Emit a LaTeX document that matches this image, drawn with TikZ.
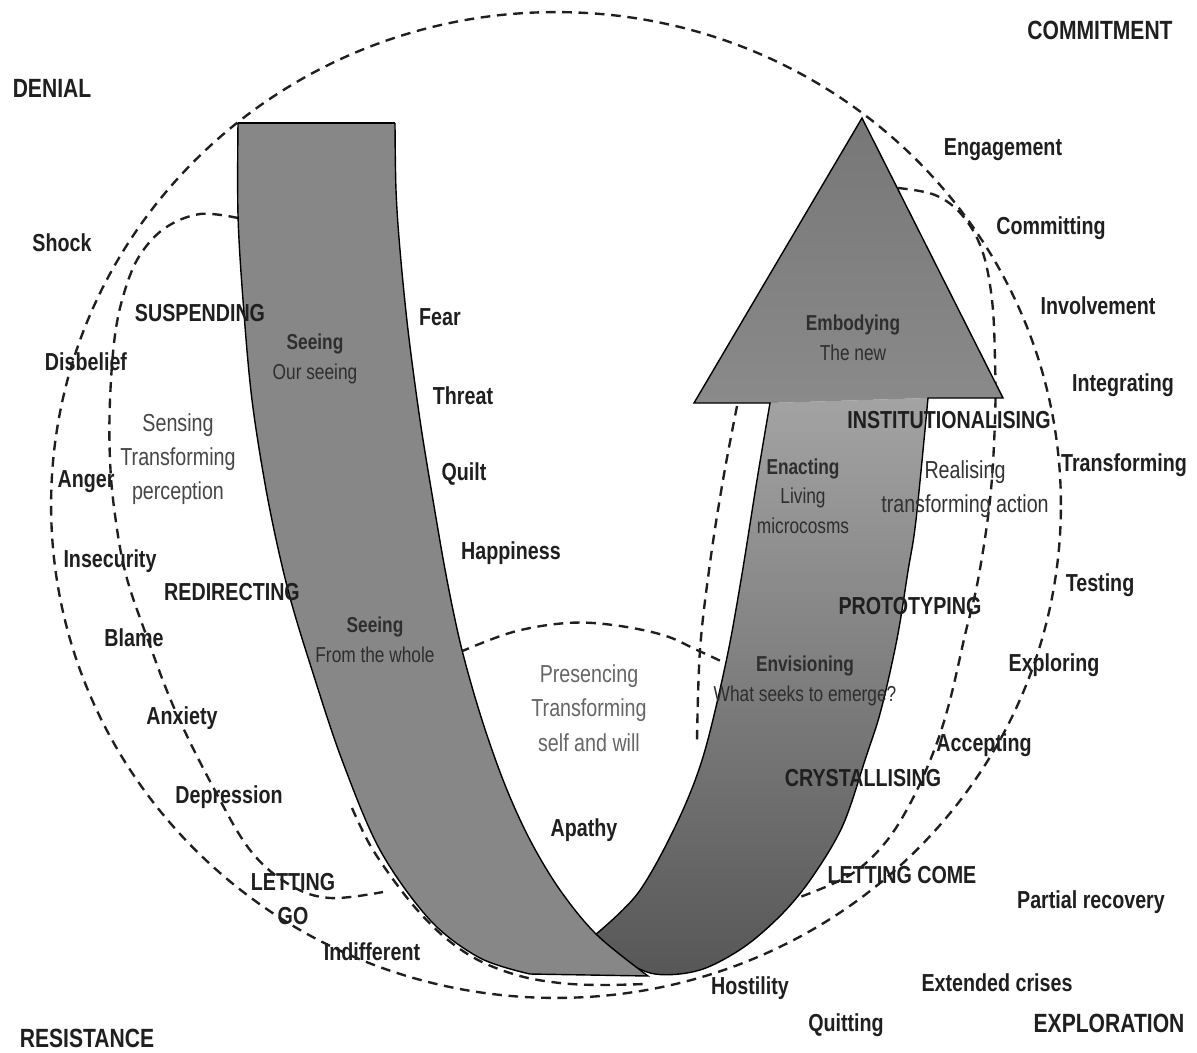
\documentclass[tikz,border=0pt]{standalone}
\usepackage{fontspec}
\setmainfont{Liberation Sans}[FakeStretch=0.8]
\definecolor{bandL}{HTML}{878787}
\definecolor{headTop}{HTML}{777777}
\definecolor{headBot}{HTML}{8A8A8A}
\definecolor{arTop}{HTML}{A3A3A3}
\definecolor{arMid}{HTML}{8C8C8C}
\definecolor{arBot}{HTML}{575757}
\begin{document}
\begin{tikzpicture}[x=0.02cm,y=-0.02cm,
  dsh/.style={draw=black!88, line width=1.35pt, dash pattern=on 5.5pt off 3.8pt},
  edge/.style={draw=black, line width=0.8pt},
  lbl/.style={font=\fontsize{14}{19}\selectfont\bfseries, text=black!88, inner sep=0pt, align=center},
  big/.style={font=\fontsize{15}{17}\selectfont\bfseries, text=black!88, inner sep=0pt},
  reg/.style={font=\fontsize{14}{19.5}\selectfont, text=black!72, inner sep=0pt, align=center},
  band/.style={font=\fontsize{12.3}{16.8}\selectfont, text=black!82, inner sep=0pt, align=center}]
\useasboundingbox[fill=white] (0,0) rectangle (1197,1052);

% dashed regions
\draw[dsh] (556,505) ellipse [x radius=10.1cm, y radius=9.86cm];
\draw[dsh] plot[smooth, tension=0.6] coordinates {(238,218) (200,214) (165,228) (140,255) (125,290) (115,335) (110,400) (110,460) (115,515) (126,575) (148,640) (175,710) (212,785) (250,850) (290,885) (330,898) (383,892)};
\draw[dsh] plot[smooth, tension=0.6] coordinates {(352,808) (370,845) (395,882) (420,913) (448,940) (480,961) (520,976) (560,983) (600,985) (645,984)};
\draw[dsh] plot[smooth, tension=0.6] coordinates {(460,652) (513,632) (567,623) (613,625) (663,635) (697,650) (725,663)};
\draw[dsh] plot[smooth, tension=0.6] coordinates {(737,406) (723,480) (710,563) (700,650) (697,742)};
\draw[dsh] plot[smooth, tension=0.6] coordinates {(898,188) (935,195) (962,215) (982,250) (992,300) (995,360) (995,420) (990,500) (978,580) (965,635) (950,700) (935,748) (912,800) (885,843) (850,875) (800,897)};

% rising arrow: shaft and head
\shade[top color=arTop, middle color=arMid, bottom color=arBot]
  plot[smooth, tension=0.55] coordinates {(595,935) (638,893) (676,825) (703,757) (726,662) (741,580) (757,480) (770,403)}
  -- (928,398)
  -- plot[smooth, tension=0.55] coordinates {(928,398) (916,520) (908,571) (897,639) (881,710) (866,757) (843,825) (813,876) (783,913) (744,947) (700,970) (655,974) (620,958) (595,935)} -- cycle;
\shade[top color=headTop, bottom color=headBot] (694,403) -- (862,118) -- (1003,398) -- (928,398) -- (770,403) -- cycle;
\draw[edge]
  plot[smooth, tension=0.55] coordinates {(595,935) (638,893) (676,825) (703,757) (726,662) (741,580) (757,480) (770,403)}
  -- (694,403) -- (862,118) -- (1003,398) -- (928,398)
  -- plot[smooth, tension=0.55] coordinates {(928,398) (916,520) (908,571) (897,639) (881,710) (866,757) (843,825) (813,876) (783,913) (744,947) (700,970) (655,974) (620,958) (595,935)} -- cycle;

% descending band
\fill[bandL] (238,123) -- plot[smooth, tension=0.55] coordinates {(238,123) (238,215) (243,300) (252,400) (268,500) (288,590) (312,670) (342,760) (380,850) (430,920) (480,958) (530,974)}
  -- (648,976) -- plot[smooth, tension=0.55] coordinates {(648,976) (597,935) (560,890) (530,840) (505,785) (482,720) (462,650) (447,580) (433,500) (420,420) (408,330) (400,250) (396,190) (395,123)} -- cycle;
\draw[edge] plot[smooth, tension=0.55] coordinates {(238,123) (238,215) (243,300) (252,400) (268,500) (288,590) (312,670) (342,760) (380,850) (430,920) (480,958) (530,974)}
  -- (648,976) -- plot[smooth, tension=0.55] coordinates {(648,976) (597,935) (560,890) (530,840) (505,785) (482,720) (462,650) (447,580) (433,500) (420,420) (408,330) (400,250) (396,190) (395,123)};
\draw[black, line width=1.6pt] (238,123) -- (395,123);

% labels
\node[big] (denial) at (52,88) {DENIAL};
\node[big] (commit) at (1100,30) {COMMITMENT};
\node[big] (resist) at (87,1038) {RESISTANCE};
\node[big] (explor) at (1109,1023) {EXPLORATION};
\node[lbl] (shock) at (62,243) {Shock};
\node[lbl] (susp) at (200,313) {SUSPENDING};
\node[lbl] (disb) at (86,362) {Disbelief};
\node[reg] (sens) at (178,459) {Sensing\\Transforming\\perception};
\node[lbl] (anger) at (86,482) {Anger};
\node[lbl] (insec) at (110,561) {Insecurity};
\node[lbl] (redir) at (232,592) {REDIRECTING};
\node[lbl] (blame) at (134,638) {Blame};
\node[lbl] (anx) at (182,718) {Anxiety};
\node[lbl] (depr) at (229,797) {Depression};
\node[lbl] (letgo) at (293,899) {LETTING\\GO};
\node[lbl] (indiff) at (372,952) {Indifferent};
\node[band] (see1) at (315,359) {\textbf{Seeing}\\Our seeing};
\node[band] (see2) at (375,640) {\textbf{Seeing}\\From the whole};
\node[lbl] (fear) at (440,317) {Fear};
\node[lbl] (threat) at (463,396) {Threat};
\node[lbl] (quilt) at (464,474) {Quilt};
\node[lbl] (happy) at (511,553) {Happiness};
\node[reg, text=black!60] (pres) at (589,708) {Presencing\\Transforming\\self and will};
\node[lbl] (apathy) at (584,830) {Apathy};
\node[band] (embody) at (853,338) {\textbf{Embodying}\\The new};
\node[lbl] (inst) at (949,420) {INSTITUTIONALISING};
\node[band] (enact) at (803,496) {\textbf{Enacting}\\Living\\microcosms};
\node[reg, text=black!80] (real) at (965,489) {Realising\\transforming action};
\node[lbl] (integ) at (1123,385) {Integrating};
\node[lbl] (transR) at (1124,465) {Transforming};
\node[lbl] (engage) at (1003,150) {Engagement};
\node[lbl] (commi) at (1051,228) {Committing};
\node[lbl] (invol) at (1098,306) {Involvement};
\node[lbl] (test) at (1100,585) {Testing};
\node[lbl] (proto) at (910,606) {PROTOTYPING};
\node[band] (envis) at (805,681) {\textbf{Envisioning}\\What seeks to emerge?};
\node[lbl] (explr) at (1054,665) {Exploring};
\node[lbl] (accept) at (984,745) {Accepting};
\node[lbl] (cryst) at (863,778) {CRYSTALLISING};
\node[lbl] (letcome) at (902,875) {LETTING COME};
\node[lbl] (partial) at (1091,902) {Partial recovery};
\node[lbl] (ext) at (997,983) {Extended crises};
\node[lbl] (host) at (750,988) {Hostility};
\node[lbl] (quit) at (846,1025) {Quitting};
\end{tikzpicture}
\end{document}
